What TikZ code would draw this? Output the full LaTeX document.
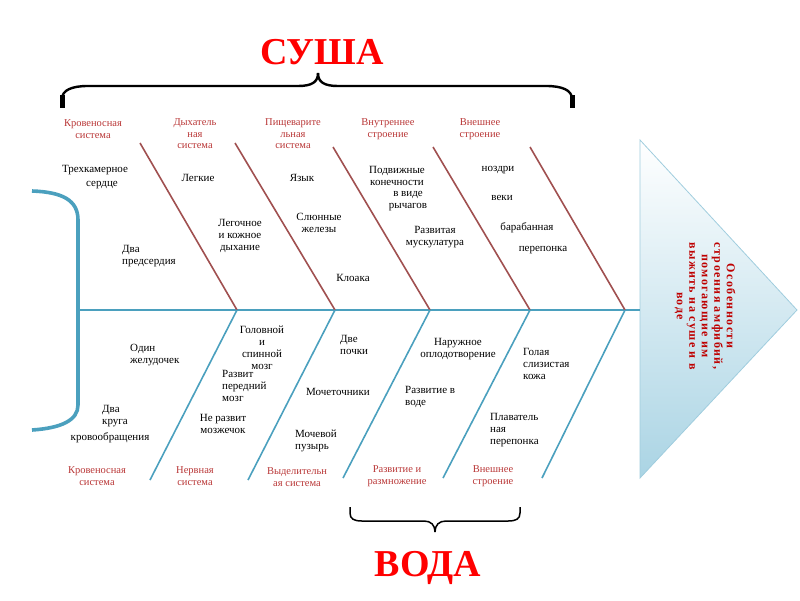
\documentclass[tikz,border=0pt]{standalone}
\usepackage{fontspec}
\setmainfont{Liberation Serif}
\usepackage{tikz}
\usetikzlibrary{positioning}
\definecolor{labred}{RGB}{185,55,55}
\definecolor{bonered}{RGB}{160,80,80}
\definecolor{fishteal}{RGB}{75,160,190}
\definecolor{headfill}{RGB}{170,212,228}
\definecolor{headline}{RGB}{160,205,222}
\definecolor{headred}{RGB}{190,0,0}

\begin{document}
\begin{tikzpicture}[x=1pt,y=-1pt,
		lbl/.style={text=labred,align=center,inner sep=0pt,font=\fontsize{10.5}{11.5}\selectfont},
		txt/.style={align=center,inner sep=0pt,font=\fontsize{11}{12}\selectfont},
		upbone/.style={draw=bonered,line width=1.6pt},
		lowbone/.style={draw=fishteal,line width=1.6pt},
		spine/.style={draw=fishteal,line width=2.6pt},
		big/.style={text=red,inner sep=0pt,font=\fontsize{38}{38}\selectfont\bfseries},
		headtxt/.style={text=headred,align=center,inner sep=0pt,font=\fontsize{12}{12.5}\selectfont\bfseries\addfontfeatures{LetterSpace=12}}]
	\useasboundingbox (0,0) rectangle (800,600);

	\coordinate (tail) at (78,310);
	\coordinate (neck) at (640,310);
	\coordinate (j1) at (237,310);
	\coordinate (j2) at (335,310);
	\coordinate (j3) at (430,310);
	\coordinate (j4) at (530,310);
	\coordinate (j5) at (625,310);
	\coordinate (u1) at (140,143);
	\coordinate (u2) at (235,143);
	\coordinate (u3) at (333,147);
	\coordinate (u4) at (433,147);
	\coordinate (u5) at (530,147);
	\coordinate (d1) at (150,480);
	\coordinate (d2) at (248,480);
	\coordinate (d3) at (343,478);
	\coordinate (d4) at (443,478);
	\coordinate (d5) at (542,478);

	\draw[draw=headline,top color=white,bottom color=headfill,line width=0.8pt] (640,140) -- (797,310) -- (640,478) -- cycle;
	\node[headtxt,rotate=-90] (headtext) at (705,306) {Особенности\\строения амфибий,\\помогающие им\\выжить на суше и в\\воде};

	\draw[fishteal,line width=3.6pt] (32,191) .. controls (62,192) and (78,200) .. (78,220) -- (tail) -- (78,405) .. controls (78,420) and (62,428) .. (32,430);
	\draw[spine] (tail) -- (neck);
	\foreach \i in {1,...,5} {
		\draw[upbone] (u\i) -- (j\i);
		\draw[lowbone] (j\i) -- (d\i);
	}

	\draw[line width=2.4pt] (62,106) -- (62,99) .. controls (62,90) and (72,86) .. (88,86) -- (298,86) .. controls (312,86) and (318,82) .. (318,73);
	\draw[line width=2.4pt] (572,106) -- (572,99) .. controls (572,90) and (562,86) .. (546,86) -- (338,86) .. controls (324,86) and (318,82) .. (318,73);
	\draw[line width=5pt] (62,95) -- (62,108);
	\draw[line width=5pt] (572,95) -- (572,108);
	\node[big] (susha) at (322,52) {СУША};

	\draw[line width=1.5pt] (350,507) -- (350,513) .. controls (350,519) and (354,521) .. (362,521) -- (424,521) .. controls (431,521) and (435,525) .. (435,532);
	\draw[line width=1.5pt] (520,507) -- (520,513) .. controls (520,519) and (516,521) .. (508,521) -- (446,521) .. controls (439,521) and (435,525) .. (435,532);
	\node[big] (voda) at (428,568) {ВОДА};

	\node[lbl] (tkrov) at (93,129) {Кровеносная\\система};
	\node[lbl] (tdyh) at (195,134) {Дыхатель\\ная\\система};
	\node[lbl] (tpish) at (293,134) {Пищеварите\\льная\\система};
	\node[lbl] (tvnutr) at (388,129) {Внутреннее\\строение};
	\node[lbl] (tvnesh) at (480,129) {Внешнее\\строение};

	\node[txt] (trehkam) at (95,170) {Трехкамерное};
	\node[txt] (serdce) at (102,185) {сердце};
	\node[txt] (legkie) at (198,178) {Легкие};
	\node[txt] (yazyk) at (302,178) {Язык};
	\node[txt] (slyun) at (319,223) {Слюнные\\железы};
	\node[txt] (kloaka) at (353,278) {Клоака};
	\node[txt] (dyhanie) at (240,236) {Легочное\\и кожное\\дыхание};
	\node[txt,align=left,anchor=west] (predserd) at (122,256) {Два\\предсердия};
	\node[txt] (konech) at (397,176) {Подвижные\\конечности};
	\node[txt] (rychag) at (408,201) {в виде\\рычагов};
	\node[txt] (muskul) at (435,237) {Развитая\\мускулатура};
	\node[txt] (nozdri) at (498,170) {ноздри};
	\node[txt] (veki) at (502,198) {веки};
	\node[txt] (baraban) at (527,228) {барабанная};
	\node[txt] (pereponka) at (543,250) {перепонка};

	\node[txt,align=left,anchor=west] (zheludoch) at (130,355) {Один\\желудочек};
	\node[txt,align=left,anchor=west] (krug) at (102,416) {Два\\круга};
	\node[txt] (krovoobr) at (110,438) {кровообращения};
	\node[txt] (mozg) at (262,348) {Головной\\и\\спинной\\мозг};
	\node[txt,align=left,anchor=west] (perednij) at (222,386) {Развит\\передний\\мозг};
	\node[txt] (mozzhech) at (223,424) {Не развит\\мозжечок};
	\node[txt,align=left,anchor=west] (pochki) at (340,345) {Две\\почки};
	\node[txt] (mochet) at (338,392) {Мочеточники};
	\node[txt,align=left,anchor=west] (puzyr) at (295,441) {Мочевой\\пузырь};
	\node[txt] (oplod) at (458,349) {Наружное\\оплодотворение};
	\node[txt,align=left,anchor=west] (razvoda) at (405,397) {Развитие в\\воде};
	\node[txt,align=left,anchor=west] (kozha) at (523,364) {Голая\\слизистая\\кожа};
	\node[txt,align=left,anchor=west] (plavat) at (490,430) {Плаватель\\ная\\перепонка};

	\node[lbl] (bkrov) at (97,476) {Кровеносная\\система};
	\node[lbl] (bnerv) at (195,476) {Нервная\\система};
	\node[lbl] (bvydel) at (297,477) {Выделительн\\ая система};
	\node[lbl] (brazv) at (397,476) {Развитие и\\размножение};
	\node[lbl] (bvnesh) at (493,476) {Внешнее\\строение};
\end{tikzpicture}
\end{document}
